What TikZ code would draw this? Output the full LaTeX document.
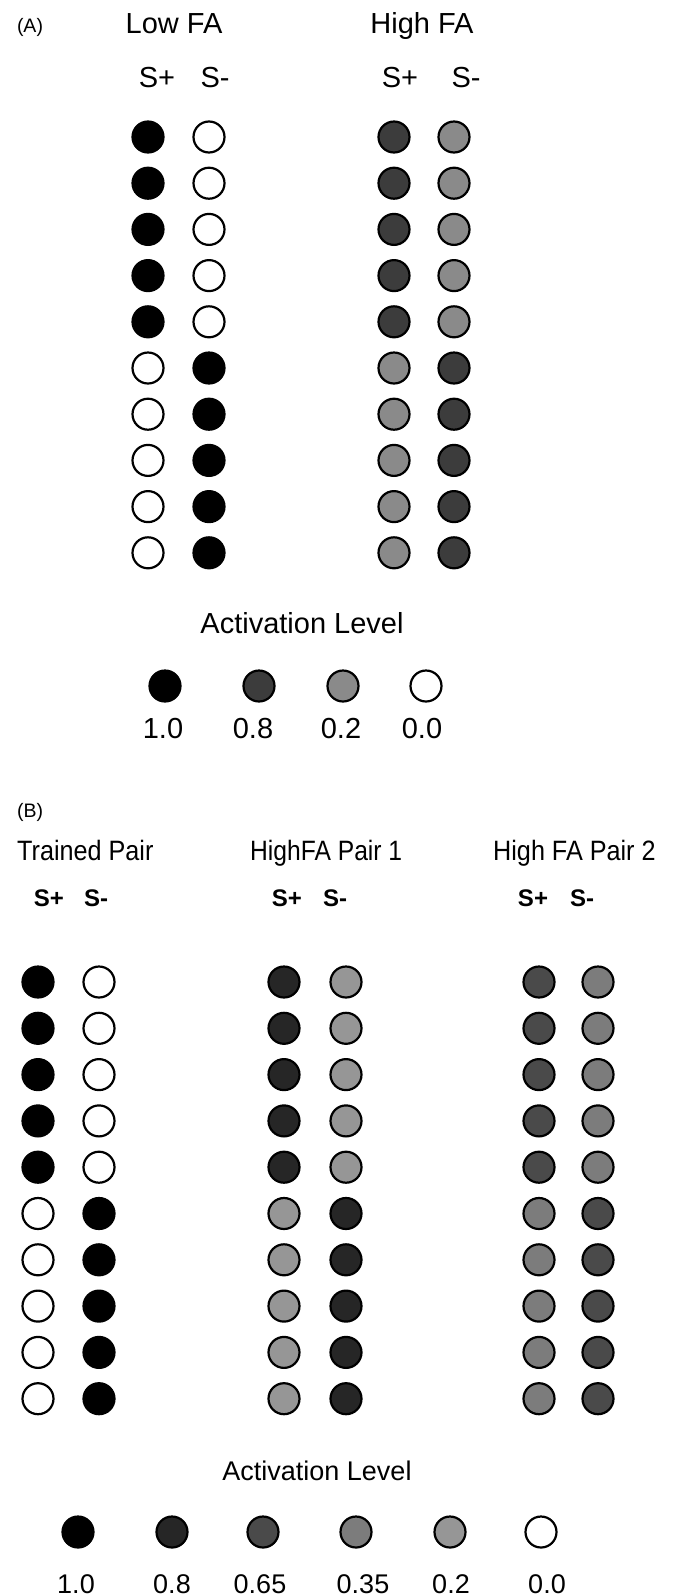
\documentclass[tikz,border=0pt]{standalone}
\usepackage{fontspec}
\setmainfont{Liberation Sans}
\usepackage{graphicx}
\definecolor{aeight}{HTML}{3C3C3C}
\definecolor{atwo}{HTML}{8A8A8A}
\definecolor{beight}{HTML}{262626}
\definecolor{bsixfive}{HTML}{4A4A4A}
\definecolor{bthreefive}{HTML}{7C7C7C}
\definecolor{btwo}{HTML}{969696}
\begin{document}
\begin{tikzpicture}[x=1pt,y=-1pt,
  dot/.style={circle,draw=black,line width=2.2pt,minimum size=31pt,inner sep=0pt},
  lbl/.style={anchor=base,inner sep=0pt},
  bigtxt/.style={lbl,font=\fontsize{29}{31}\selectfont},
  midtxt/.style={lbl,font=\fontsize{27}{29}\selectfont},
  tagtxt/.style={lbl,font=\fontsize{19.5}{21}\selectfont},
  boldtxt/.style={lbl,font=\fontsize{24}{26}\selectfont\bfseries},
  ttltxt/.style={anchor=base west,inner sep=0pt,font=\fontsize{28}{30}\selectfont}]
\useasboundingbox[fill=white] (0,0) rectangle (677,1596);

% ---------- Panel A ----------
\node[tagtxt] (tagA) at (30,32) {(A)};
\node[bigtxt] (lowfa) at (174,33) {Low FA};
\node[bigtxt] (highfa) at (422,33) {High FA};
\node[bigtxt] (lsp) at (157,87) {S+};
\node[bigtxt] (lsm) at (215,87) {S-};
\node[bigtxt] (hsp) at (400,87) {S+};
\node[bigtxt] (hsm) at (466,87) {S-};

\foreach \i in {1,...,10}{
  \ifnum\i<6 \def\lp{black}\def\lm{white}\def\hp{aeight}\def\hm{atwo}%
  \else \def\lp{white}\def\lm{black}\def\hp{atwo}\def\hm{aeight}\fi
  \node[dot,fill=\lp] (alp\i) at (148,{137+46.2*(\i-1)}) {};
  \node[dot,fill=\lm] (alm\i) at (209,{137+46.2*(\i-1)}) {};
  \node[dot,fill=\hp] (ahp\i) at (394,{137+46.2*(\i-1)}) {};
  \node[dot,fill=\hm] (ahm\i) at (454,{137+46.2*(\i-1)}) {};
}

\node[bigtxt] (actA) at (302,633) {Activation Level};
\node[dot,fill=black]  (legA1) at (165,686) {};
\node[dot,fill=aeight] (legA2) at (259,686) {};
\node[dot,fill=atwo]   (legA3) at (343,686) {};
\node[dot,fill=white]  (legA4) at (426,686) {};
\node[bigtxt] (valA1) at (163,738) {1.0};
\node[bigtxt] (valA2) at (253,738) {0.8};
\node[bigtxt] (valA3) at (341,738) {0.2};
\node[bigtxt] (valA4) at (422,738) {0.0};

% ---------- Panel B ----------
\node[tagtxt,anchor=base west] (tagB) at (17,817) {(B)};
\node[ttltxt] (trained) at (17,860) {\scalebox{0.9}[1]{Trained Pair}};
\node[ttltxt] (pairone) at (250,860) {\scalebox{0.88}[1]{HighFA Pair 1}};
\node[ttltxt] (pairtwo) at (493,860) {\scalebox{0.9}[1]{High FA Pair 2}};
\node[boldtxt] (tsp) at (49,906) {S+};
\node[boldtxt] (tsm) at (96,906) {S-};
\node[boldtxt] (psp) at (287,906) {S+};
\node[boldtxt] (psm) at (335,906) {S-};
\node[boldtxt] (qsp) at (533,906) {S+};
\node[boldtxt] (qsm) at (582,906) {S-};

\foreach \i in {1,...,10}{
  \ifnum\i<6 \def\tp{black}\def\tm{white}\def\pp{beight}\def\pm{btwo}\def\qp{bsixfive}\def\qm{bthreefive}%
  \else \def\tp{white}\def\tm{black}\def\pp{btwo}\def\pm{beight}\def\qp{bthreefive}\def\qm{bsixfive}\fi
  \node[dot,fill=\tp] (btp\i) at (38,{982+46.3*(\i-1)}) {};
  \node[dot,fill=\tm] (btm\i) at (99,{982+46.3*(\i-1)}) {};
  \node[dot,fill=\pp] (bpp\i) at (284,{982+46.3*(\i-1)}) {};
  \node[dot,fill=\pm] (bpm\i) at (346,{982+46.3*(\i-1)}) {};
  \node[dot,fill=\qp] (bqp\i) at (539,{982+46.3*(\i-1)}) {};
  \node[dot,fill=\qm] (bqm\i) at (598,{982+46.3*(\i-1)}) {};
}

\node[midtxt] (actB) at (317,1480) {Activation Level};
\node[dot,fill=black]      (legB1) at (78,1532) {};
\node[dot,fill=beight]     (legB2) at (172,1532) {};
\node[dot,fill=bsixfive]   (legB3) at (263,1532) {};
\node[dot,fill=bthreefive] (legB4) at (356,1532) {};
\node[dot,fill=btwo]       (legB5) at (450,1532) {};
\node[dot,fill=white]      (legB6) at (541,1532) {};
\node[midtxt] (valB1) at (76,1593.5) {1.0};
\node[midtxt] (valB2) at (172,1593.5) {0.8};
\node[midtxt] (valB3) at (260,1593.5) {0.65};
\node[midtxt] (valB4) at (363,1593.5) {0.35};
\node[midtxt] (valB5) at (451,1593.5) {0.2};
\node[midtxt] (valB6) at (547,1593.5) {0.0};
\end{tikzpicture}
\end{document}
